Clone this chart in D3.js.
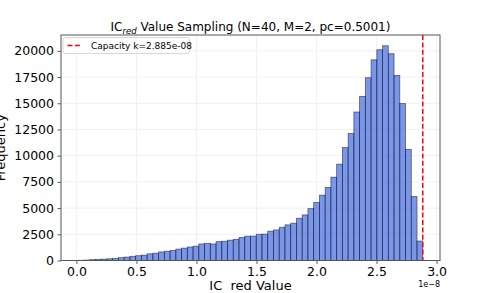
<!DOCTYPE html>
<html>
<head>
<meta charset="utf-8">
<title>IC red value sampling</title>
<script type="text/javascript" src="https://d3js.org/d3.v7.min.js"></script>
<style>
  body { margin: 0; background: #fff; }
  text { font-family: "DejaVu Sans", sans-serif; fill: #000; }
</style>
</head>
<body>
<script type="text/javascript">
// histogram counts, 60 bins (values x 1e-8)
var counts = [20, 40, 80, 110, 130, 160, 210, 270, 330, 400,
              460, 520, 640, 700, 820, 890, 960, 1090, 1180, 1290,
              1370, 1580, 1640, 1580, 1800, 1840, 1940, 2020, 2200, 2320,
              2330, 2500, 2520, 2800, 2920, 3170, 3400, 3560, 4030, 4350,
              4950, 5540, 6235, 6970, 7950, 9190, 10780, 12110, 14170, 15660,
              17440, 19150, 20110, 20490, 19730, 17660, 14970, 10610, 6110, 1860]
var binRange = [0.015, 2.885]
var capacity = 2.885
var xTicks = [0.0, 0.5, 1.0, 1.5, 2.0, 2.5, 3.0]
var yTicks = [0, 2500, 5000, 7500, 10000, 12500, 15000, 17500, 20000]

var w = 488, h = 293
var pLeft = 61, pRight = 440, pTop = 35, pBottom = 260.5

var svg = d3.select("body").append("svg").attr("width", w).attr("height", h)

var binW = (binRange[1] - binRange[0]) / counts.length
var bins = counts.map(function(c, i) {
    return {x0: binRange[0] + i * binW, x1: binRange[0] + (i + 1) * binW, n: c}
})

var span = binRange[1] - binRange[0]
var xScale = d3.scaleLinear()
    .domain([binRange[0] - 0.05 * span, binRange[1] + 0.05 * span])
    .range([pLeft, pRight])
var yScale = d3.scaleLinear()
    .domain([0, d3.max(counts) * 1.05])
    .range([pBottom, pTop])

// grid
svg.append("g").selectAll("line")
    .data(xTicks).enter().append("line")
    .attr("x1", function(d) { return xScale(d) })
    .attr("x2", function(d) { return xScale(d) })
    .attr("y1", pTop).attr("y2", pBottom)
    .attr("stroke", "#ececec").attr("stroke-width", 0.8)
svg.append("g").selectAll("line")
    .data(yTicks).enter().append("line")
    .attr("y1", function(d) { return yScale(d) })
    .attr("y2", function(d) { return yScale(d) })
    .attr("x1", pLeft).attr("x2", pRight)
    .attr("stroke", "#ececec").attr("stroke-width", 0.8)

// bars
svg.append("g").selectAll("rect")
    .data(bins).enter().append("rect")
    .attr("x", function(d) { return xScale(d.x0) })
    .attr("width", function(d) { return xScale(d.x1) - xScale(d.x0) })
    .attr("y", function(d) { return yScale(d.n) })
    .attr("height", function(d) { return yScale(0) - yScale(d.n) })
    .attr("fill", "royalblue").attr("fill-opacity", 0.7)
    .attr("stroke", "#000").attr("stroke-opacity", 0.55).attr("stroke-width", 0.8)

// capacity line
svg.append("line")
    .attr("x1", xScale(capacity)).attr("x2", xScale(capacity))
    .attr("y1", pTop).attr("y2", pBottom)
    .attr("stroke", "red").attr("stroke-width", 1.5)
    .attr("stroke-dasharray", "5,2.4")

// axes
svg.append("g")
    .attr("transform", "translate(0," + pBottom + ")")
    .call(d3.axisBottom(xScale).tickValues(xTicks).tickFormat(d3.format(".1f")).tickSizeOuter(0).tickSize(3.5).tickPadding(3.5))
svg.append("g")
    .attr("transform", "translate(" + pLeft + ",0)")
    .call(d3.axisLeft(yScale).tickValues(yTicks).tickFormat(d3.format("d")).tickSizeOuter(0).tickSize(3.5).tickPadding(3.5))
svg.selectAll(".domain").remove()
svg.selectAll(".tick line").attr("stroke", "#333").attr("stroke-width", 0.8)
svg.selectAll(".tick text").attr("font-size", 12.5).attr("font-family", "DejaVu Sans").attr("fill", "#000")

// frame
svg.append("rect")
    .attr("x", pLeft).attr("y", pTop)
    .attr("width", pRight - pLeft).attr("height", pBottom - pTop)
    .attr("fill", "none").attr("stroke", "#555").attr("stroke-width", 1)

// title
var title = svg.append("text")
    .attr("x", (pLeft + pRight) / 2).attr("y", 31)
    .attr("text-anchor", "middle").attr("font-size", 12)
title.append("tspan").text("IC")
title.append("tspan").attr("font-style", "italic").attr("font-size", 8.5).attr("dy", 2.5).text("red")
title.append("tspan").attr("dy", -2.5).text(" Value Sampling (N=40, M=2, pc=0.5001)")

// axis labels
svg.append("text")
    .attr("x", (pLeft + pRight) / 2).attr("y", 290)
    .attr("text-anchor", "middle").attr("font-size", 13)
    .style("white-space", "pre")
    .text("IC  red Value")
svg.append("text")
    .attr("transform", "translate(5," + ((pTop + pBottom) / 2) + ") rotate(-90)")
    .attr("text-anchor", "middle").attr("font-size", 13)
    .text("Frequency")
svg.append("text")
    .attr("x", pRight).attr("y", 287)
    .attr("text-anchor", "end").attr("font-size", 8)
    .text("1e\u22128")

// legend
var lg = svg.append("g")
lg.append("rect")
    .attr("x", 63).attr("y", 37.5).attr("width", 126.5).attr("height", 16).attr("rx", 2)
    .attr("fill", "#fff").attr("fill-opacity", 0.8).attr("stroke", "#ccc").attr("stroke-width", 0.8)
lg.append("line")
    .attr("x1", 67.5).attr("x2", 81.5).attr("y1", 45.5).attr("y2", 45.5)
    .attr("stroke", "red").attr("stroke-width", 1.5).attr("stroke-dasharray", "5,2.4")
lg.append("text")
    .attr("x", 91).attr("y", 48.8).attr("font-size", 9)
    .text("Capacity k=" + (capacity * 1e-8).toExponential(3).replace("e-8", "e-08"))
</script>
</body>
</html>
